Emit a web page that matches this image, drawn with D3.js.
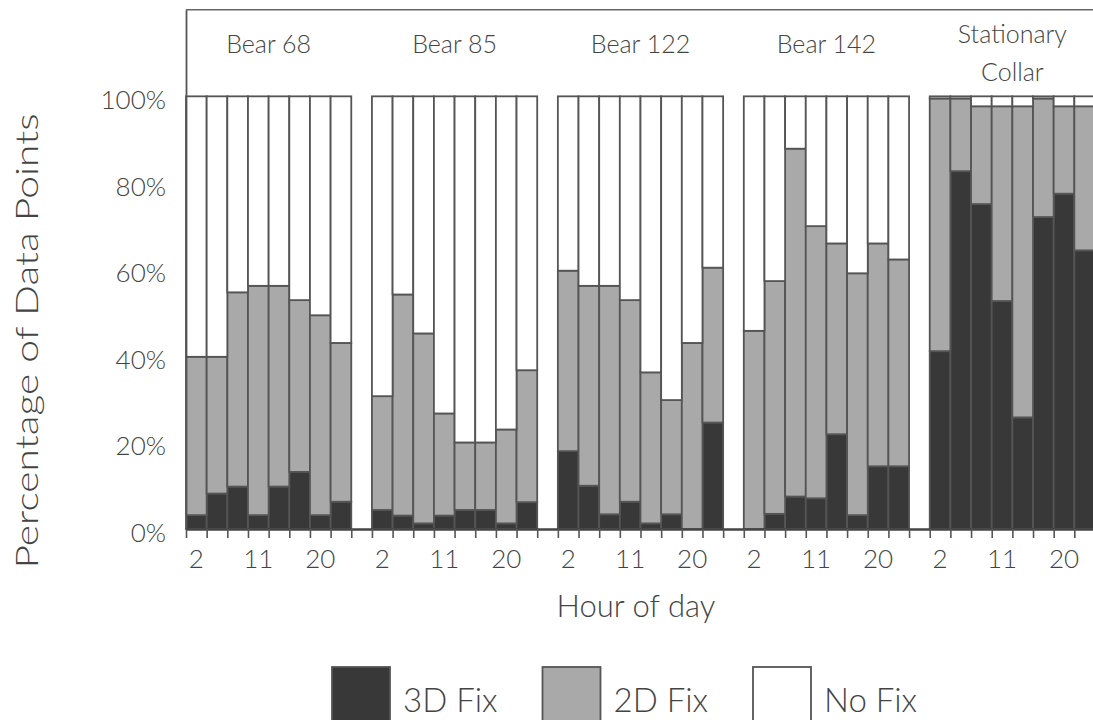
<!DOCTYPE html>
<html>
<head>
<meta charset="utf-8">
<script src="https://cdn.jsdelivr.net/npm/d3@7"></script>
<style>
    body { margin: 0; background: #fff; }
    svg text { font-family: Lato, "Open Sans", sans-serif; font-weight: 300; fill: #444; }
</style>
</head>
<body>
<svg id="chart" width="1093" height="720"></svg>
<script>

// panels (one per collar), each has 8 hourly bars
var panels = [['Bear 68'], ['Bear 85'], ['Bear 122'], ['Bear 142'], ['Stationary', 'Collar']];
var hours = [2, 5, 8, 11, 14, 17, 20, 23];
var hourLabels = [2, 11, 20];
var yTicks = [0, 20, 40, 60, 80, 100];
var legendLabels = ['3D Fix', '2D Fix', 'No Fix'];

// % of 3D fixes per panel / hour
var fix3D = [
    [3.2, 8.2, 9.8, 3.2, 9.8, 13.2, 3.2, 6.3],
    [4.4, 3.1, 1.3, 3.1, 4.4, 4.4, 1.3, 6.2],
    [18.0, 10.0, 3.4, 6.3, 1.3, 3.4, 0, 24.6],
    [0, 3.5, 7.5, 7.1, 21.9, 3.2, 14.5, 14.5],
    [41.1, 82.7, 75.1, 52.7, 25.8, 72.1, 77.5, 64.4]
];

// % of 2D fixes per panel / hour
var fix2D = [
    [36.6, 31.6, 44.9, 53.0, 46.4, 39.7, 46.2, 36.7],
    [26.3, 51.1, 43.9, 23.6, 15.6, 15.6, 21.7, 30.5],
    [41.7, 46.2, 52.8, 46.6, 34.9, 26.4, 43.0, 35.8],
    [45.8, 53.8, 80.4, 62.9, 44.1, 55.9, 51.5, 47.8],
    [58.4, 16.8, 22.6, 45.0, 71.9, 27.4, 20.2, 33.3]
];

var colors = { f3d: '#383838', f2d: '#a9a9a9', none: '#ffffff' };
var keys = ['f3d', 'f2d', 'none'];

var svg = d3.select('#chart');

var slotsPerPanel = hours.length + 1;   // one blank slot between panels
var nSlots = panels.length * slotsPerPanel - 1;

var x = d3.scaleBand()
    .domain(d3.range(nSlots))
    .range([186, 1095])
    .padding(0);

// boundaries between slots, for the tick marks
var xEdge = d3.scaleLinear()
    .domain([0, nSlots])
    .range(x.range());

// axis max is 120 so the panel titles fit above 100%
var y = d3.scaleLinear()
    .domain([0, 120])
    .range([529, 9.8]);

// flatten into rows for d3.stack
var rows = [];
panels.forEach(function(p, pi) {
    hours.forEach(function(h, hi) {
        var a = fix3D[pi][hi], b = fix2D[pi][hi];
        rows.push({ slot: pi * slotsPerPanel + hi, f3d: a, f2d: b, none: 100 - a - b });
    });
});

var series = d3.stack().keys(keys)(rows);

svg.append('g')
    .selectAll('g')
    .data(series)
    .join('g')
        .attr('fill', function(d) { return colors[d.key]; })
    .selectAll('rect')
    .data(function(d) { return d; })
    .join('rect')
        .attr('x', function(d) { return x(d.data.slot); })
        .attr('y', function(d) { return y(d[1]); })
        .attr('width', x.bandwidth())
        .attr('height', function(d) { return y(d[0]) - y(d[1]); })
        .attr('stroke', '#555')
        .attr('stroke-width', 1.8);

// frame: top line + left axis
svg.append('line')
    .attr('x1', x.range()[0]).attr('x2', x.range()[1])
    .attr('y1', y(120)).attr('y2', y(120))
    .attr('stroke', '#666').attr('stroke-width', 1.5);

var yAxis = svg.append('g')
    .attr('transform', 'translate(' + x.range()[0] + ',0)')
    .call(d3.axisLeft(y)
        .tickValues(yTicks)
        .tickSize(0)
        .tickSizeOuter(0)
        .tickPadding(20)
        .tickFormat(function(d) { return d + '%'; }));
yAxis.select('.domain').attr('stroke', '#555').attr('stroke-width', 1.8);
yAxis.selectAll('text')
    .attr('dy', null)
    .attr('y', 12.5)
    .style('font-size', '26px')
    .style('font-family', 'Lato, sans-serif')
    .attr('fill', '#444');

var xAxis = svg.append('g')
    .attr('transform', 'translate(0,' + y(0) + ')')
    .call(d3.axisBottom(xEdge)
        .tickValues(d3.range(nSlots + 1))
        .tickSize(9)
        .tickSizeOuter(0)
        .tickFormat(''));
xAxis.select('.domain').attr('stroke', '#444').attr('stroke-width', 2.5);
xAxis.selectAll('.tick line').attr('stroke', '#555').attr('stroke-width', 1.6);

// hour labels under the 1st, 4th and 7th bar of each panel
panels.forEach(function(p, pi) {
    svg.append('g')
        .selectAll('text')
        .data(hourLabels)
        .join('text')
            .attr('x', function(h) { return x(pi * slotsPerPanel + hours.indexOf(h)) + x.bandwidth() / 2; })
            .attr('y', 567.5)
            .attr('text-anchor', 'middle')
            .style('font-size', '26px')
            .text(function(h) { return h; });
});

// panel titles
panels.forEach(function(p, pi) {
    var cx = x(pi * slotsPerPanel) + x.bandwidth() * hours.length / 2;
    svg.append('text')
        .attr('text-anchor', 'middle')
        .style('font-size', '25px')
        .selectAll('tspan')
        .data(p)
        .join('tspan')
            .attr('x', cx)
            .attr('y', function(d, i) { return p.length > 1 ? 43 + i * 38 : 53; })
            .text(function(d) { return d; });
});

// century-gothic-ish width, stretch it out
svg.append('text')
    .attr('transform', 'translate(38,341) rotate(-90)')
    .attr('text-anchor', 'middle')
    .attr('textLength', 455)
    .attr('lengthAdjust', 'spacingAndGlyphs')
    .style('font-size', '31px')
    .text('Percentage of Data Points');

svg.append('text')
    .attr('x', 636)
    .attr('y', 617)
    .attr('text-anchor', 'middle')
    .style('font-size', '31px')
    .text('Hour of day');

// legend
var legend = svg.append('g')
    .selectAll('g')
    .data(keys)
    .join('g')
        .attr('transform', function(d, i) { return 'translate(' + (332 + i * 210.5) + ',667)'; });

legend.append('rect')
    .attr('width', 58)
    .attr('height', 58)
    .attr('fill', function(d) { return colors[d]; })
    .attr('stroke', '#555')
    .attr('stroke-width', 1.8);

legend.append('text')
    .attr('x', 71)
    .attr('y', 45)
    .style('font-size', '33px')
    .text(function(d, i) { return legendLabels[i]; });

</script>
</body>
</html>
